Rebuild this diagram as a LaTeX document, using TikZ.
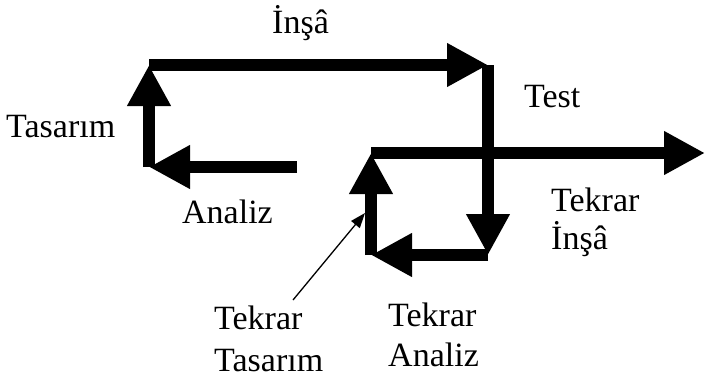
\documentclass[tikz,border=0pt]{standalone}
\usepackage{fontspec}
\setmainfont{Liberation Serif}
\usetikzlibrary{arrows.meta}
\begin{document}
\begin{tikzpicture}[x=1pt,y=-1pt,
  flow/.style={line width=11.5pt,-{Triangle[length=41pt,width=41pt]}},
  pointer/.style={line width=1.3pt,-{Triangle[length=15pt,width=11pt]}},
  lbl/.style={font=\fontsize{34}{40}\selectfont,inner sep=0pt,anchor=base west},
  lbl2/.style={font=\fontsize{34}{40}\selectfont,inner sep=0pt,anchor=north west,align=left}]
\useasboundingbox (0,0) rectangle (705,386);
% corner points of the flow
\coordinate (a0) at (297,167);
\coordinate (a1) at (149,167);
\coordinate (a2) at (149,65);
\coordinate (a3) at (488,65);
\coordinate (a4) at (488,255);
\coordinate (a5) at (371,255);
\coordinate (a6) at (371,153);
\coordinate (a7) at (705,153);
% flow arrows
\draw[flow] (a0) -- (a1);
\draw[flow] (a1) -- (a2);
\draw[flow] (a2) -- (a3);
\draw[flow] (a3) -- (a4);
\draw[flow] (a4) -- (a5);
\draw[flow] (a5) -- (a6);
\draw[flow] (a6) -- (a7);
% labels
\node[lbl] (insa) at (272,33) {İnşâ};
\node[lbl] (tasarim) at (6,137) {Tasarım};
\node[lbl] (test) at (524,107) {Test};
\node[lbl] (analiz) at (182,223) {Analiz};
\node[lbl2] (tinsa) at (551,188) {Tekrar\\[-2pt]İnşâ};
\node[lbl2] (ttas) at (214,306) {Tekrar\\[2pt]Tasarım};
\node[lbl2] (tana) at (388,303) {Tekrar\\Analiz};
% pointer
\coordinate (pstart) at (293,300);
\coordinate (ptip) at (365,213);
\draw[pointer] (pstart) -- (ptip);
\end{tikzpicture}
\end{document}
